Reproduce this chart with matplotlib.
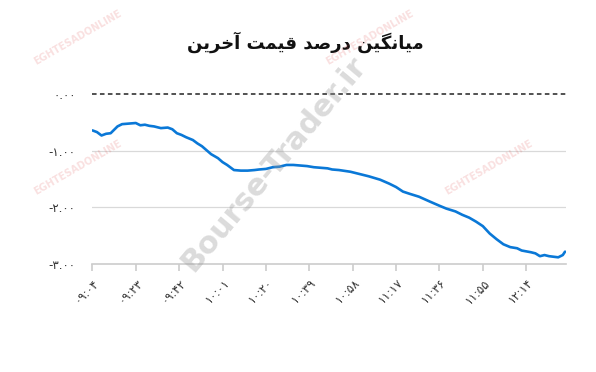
import matplotlib
matplotlib.use("Agg")
import matplotlib.pyplot as plt

# ---- data ----
times = ["09:04","09:06","09:08","09:10","09:12","09:15","09:17","09:20","09:23","09:25",
         "09:27","09:29","09:31","09:34","09:37","09:39","09:41","09:43","09:45","09:48",
         "09:50","09:52","09:54","09:56","09:59","10:01","10:03","10:05","10:06","10:09",
         "10:12","10:15","10:17","10:20","10:23","10:26","10:29","10:32","10:35","10:38",
         "10:41","10:44","10:47","10:49","10:52","10:57","11:01","11:05","11:10","11:14",
         "11:17","11:20","11:23","11:27","11:32","11:36","11:39","11:43","11:46","11:49",
         "11:52","11:55","11:58","12:01","12:04","12:07","12:10","12:12","12:16","12:18",
         "12:20","12:22","12:24","12:26","12:28","12:30","12:31"]
values = [-0.64,-0.67,-0.73,-0.70,-0.69,-0.57,-0.53,-0.52,-0.51,-0.55,
          -0.54,-0.56,-0.57,-0.60,-0.59,-0.62,-0.69,-0.72,-0.76,-0.81,
          -0.87,-0.92,-0.99,-1.06,-1.13,-1.20,-1.25,-1.31,-1.34,-1.35,
          -1.35,-1.34,-1.33,-1.32,-1.29,-1.28,-1.25,-1.25,-1.26,-1.27,
          -1.29,-1.30,-1.31,-1.33,-1.34,-1.37,-1.41,-1.45,-1.51,-1.58,
          -1.64,-1.72,-1.76,-1.81,-1.90,-1.97,-2.02,-2.07,-2.13,-2.18,
          -2.25,-2.33,-2.46,-2.56,-2.65,-2.70,-2.72,-2.76,-2.79,-2.81,
          -2.86,-2.84,-2.86,-2.87,-2.88,-2.84,-2.78]
tick_times = ["09:04","09:23","09:42","10:01","10:20","10:39","10:58",
              "11:17","11:36","11:55","12:14"]
y_ticks = [0, -1, -2, -3]
y_labels = ["۰.۰۰", "-۱.۰۰", "-۲.۰۰", "-۳.۰۰"]
end_time = "12:31"

# title "میانگین درصد قیمت آخرین" in shaped presentation forms, visual order
w1 = "\uFEE3\uFBFF\uFE8E\uFEE7\uFB95\uFBFF\uFEE6"   # میانگین
w2 = "\uFEA9\uFEAD\uFEBB\uFEAA"                     # درصد
w3 = "\uFED7\uFBFF\uFEE4\uFE96"                     # قیمت
w4 = "\uFE81\uFEA7\uFEAE\uFBFE\uFEE6"               # آخرین
title = " ".join(w[::-1] for w in [w4, w3, w2, w1])

fa_digits = str.maketrans("0123456789", "۰۱۲۳۴۵۶۷۸۹")

def to_min(t):
    h, m = t.split(":")
    return int(h) * 60 + int(m)

t0 = to_min(times[0])
xs = [to_min(t) - t0 for t in times]
tx = [to_min(t) - t0 for t in tick_times]

plt.rcParams['font.family'] = ['DejaVu Sans']

fig = plt.figure(figsize=(5.96, 3.72), dpi=100)
ax = fig.add_axes([0.155, 0.290, 0.795, 0.457])

ax.plot(xs, values, color="#0a78d7", lw=1.9, solid_capstyle="round", zorder=3)
ax.axhline(0, color="#222222", lw=1.1, ls=(0, (3, 2.2)), clip_on=False, zorder=2)
for v in [-1, -2]:
    ax.axhline(v, color="#d9d9d9", lw=0.9, zorder=1)

ax.set_xlim(0, to_min(end_time) - t0 + 0.5)
ax.set_ylim(-3, 0)
for s in ["top", "right", "left"]:
    ax.spines[s].set_visible(False)
ax.spines["bottom"].set_color("#cccccc")
ax.spines["bottom"].set_linewidth(1.2)

ax.set_yticks(y_ticks)
ax.set_yticklabels(y_labels, fontsize=8.5, color="#333333")
ax.tick_params(axis="y", length=0, pad=12)

ax.set_xticks(tx)
ax.set_xticklabels([t.translate(fa_digits) for t in tick_times], rotation=45,
                   ha="right", va="top", rotation_mode="anchor", fontsize=8.5, color="#333333")
ax.tick_params(axis="x", length=5, width=1.2, color="#cccccc", pad=4)

fig.text(0.513, 0.887, title, ha="center", va="center", fontsize=13,
         fontweight="bold", color="#111111")

# watermark
fig.text(0.46, 0.56, "Bourse-Trader.ir", rotation=50, ha="center", va="center",
         fontsize=22, fontweight="bold", color="#999999", alpha=0.35)
for (x, y) in [(0.13, 0.90), (0.13, 0.55), (0.82, 0.55), (0.62, 0.90)]:
    fig.text(x, y, "EGHTESADONLINE", rotation=30, ha="center", va="center",
             fontsize=7, fontweight="bold", color="#e05050", alpha=0.18)

fig.savefig("out.png", dpi=100, facecolor="white")
